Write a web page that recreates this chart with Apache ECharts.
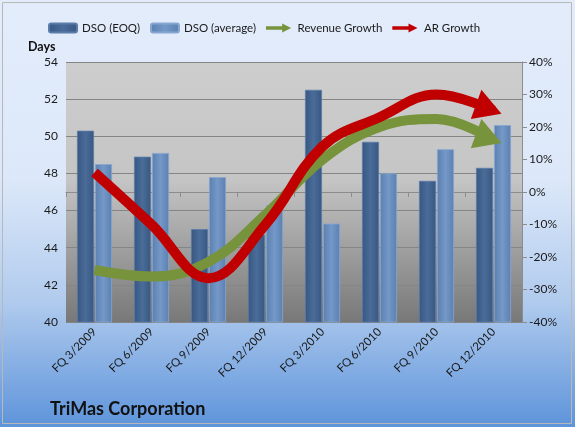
<!DOCTYPE html>
<html>
<head>
<meta charset="utf-8">
<script src="https://cdn.jsdelivr.net/npm/echarts@6/dist/echarts.min.js"></script>
<style>
html,body{margin:0;padding:0;background:#fff;}
#chart{width:575px;height:427px;}
</style>
</head>
<body>
<div id="chart"></div>
<script>
var categories = ['FQ 3/2009','FQ 6/2009','FQ 9/2009','FQ 12/2009','FQ 3/2010','FQ 6/2010','FQ 9/2010','FQ 12/2010'];
var dsoEOQ = [50.3, 48.9, 45.0, 44.7, 52.5, 49.7, 47.6, 48.3];
var dsoAvg = [48.5, 49.1, 47.8, 46.3, 45.3, 48.0, 49.3, 50.6];
var revenueGrowth = [-24, -26, -21.5, -7, 10, 20, 22.5, 16];
var arGrowth = [6, -10, -26.5, -10, 14, 23, 30, 25];
var leftTicks = {min: 40, max: 54, interval: 2};
var rightTicks = {min: -40, max: 40, interval: 10};

var FONT = 'Lato';
var arrowHead = 'path://M0,0 L24,14 L0,28 Z';
var legendArrow = 'path://M0,3 L18,3 L18,0 L28,5 L18,10 L18,7 L0,7 Z';

function lineData(values, rot) {
  var rad = rot * Math.PI / 180;
  return values.map(function (v, i) {
    if (i === values.length - 1) {
      return {
        value: v,
        symbol: arrowHead,
        symbolSize: [27, 31],
        symbolRotate: -rot,
        symbolOffset: [-5 * Math.cos(rad), -5 * Math.sin(rad)],
        symbolKeepAspect: false
      };
    }
    return {value: v, symbol: 'none'};
  });
}

function barGrad(a, b) {
  return new echarts.graphic.LinearGradient(0, 0, 1, 0, [
    {offset: 0, color: a}, {offset: 0.5, color: b}, {offset: 1, color: a}
  ]);
}

var chart = echarts.init(document.getElementById('chart'));
chart.setOption({
  animation: false,
  backgroundColor: new echarts.graphic.LinearGradient(0, 0, 0, 1, [
    {offset: 0, color: '#e3ecfb'},
    {offset: 0.42, color: '#dce8f9'},
    {offset: 0.7, color: '#b2ccee'},
    {offset: 1, color: '#5e94db'}
  ]),
  textStyle: {fontFamily: FONT},
  graphic: [
    {type: 'rect', shape: {x: 2.5, y: 2.5, width: 569, height: 421}, style: {fill: 'none', stroke: '#b8b8b8', lineWidth: 1}, silent: true},
    {type: 'text', left: 28, top: 40, style: {text: 'Days', font: 'bold 12.5px ' + FONT, fill: '#111'}},
    {type: 'text', left: 50, top: 400, style: {text: 'TriMas Corporation', font: 'bold 18px ' + FONT, fill: '#111'}}
  ],
  legend: {
    left: 43, top: 17,
    itemWidth: 28, itemHeight: 9, itemGap: 10,
    textStyle: {fontFamily: FONT, fontSize: 11.5, color: '#1a1a1a'},
    data: [
      {name: 'DSO (EOQ)', icon: 'roundRect'},
      {name: 'DSO (average)', icon: 'roundRect'},
      {name: 'Revenue Growth', icon: legendArrow, itemStyle: {color: '#77933c'}},
      {name: 'AR Growth', icon: legendArrow, itemStyle: {color: '#c00000'}}
    ]
  },
  grid: {
    left: 66, right: 53, top: 62, bottom: 105,
    show: true, borderWidth: 0,
    backgroundColor: new echarts.graphic.LinearGradient(0, 0, 0, 1, [
      {offset: 0, color: '#cdcdcd'},
      {offset: 0.45, color: '#c5c5c5'},
      {offset: 1, color: '#787878'}
    ])
  },
  xAxis: {
    type: 'category', data: categories,
    axisLine: {lineStyle: {color: '#8c8c8c'}},
    axisTick: {show: true, alignWithLabel: false, length: 5, lineStyle: {color: '#8c8c8c'}},
    axisLabel: {rotate: 45, interval: 0, fontSize: 11.5, color: '#1a1a1a', margin: 8, fontFamily: FONT}
  },
  yAxis: [
    {
      type: 'value', min: leftTicks.min, max: leftTicks.max, interval: leftTicks.interval,
      axisLine: {show: false}, axisTick: {show: false},
      axisLabel: {fontSize: 12, color: '#1a1a1a', margin: 8, fontFamily: FONT},
      splitLine: {lineStyle: {color: '#858585', width: 1}}
    },
    {
      type: 'value', min: rightTicks.min, max: rightTicks.max, interval: rightTicks.interval,
      position: 'right',
      axisLine: {show: true, lineStyle: {color: '#8c8c8c'}},
      axisTick: {show: true, length: 5, lineStyle: {color: '#8c8c8c'}},
      axisLabel: {formatter: '{value}%', fontSize: 12, color: '#1a1a1a', margin: 7, fontFamily: FONT},
      splitLine: {show: false}
    }
  ],
  series: [
    {
      name: 'DSO (EOQ)', type: 'bar', data: dsoEOQ, barWidth: 17, barGap: '6%',
      itemStyle: {color: barGrad('#385781', '#4a6c99'), borderColor: '#5a7ca8', borderWidth: 0.8}
    },
    {
      name: 'DSO (average)', type: 'bar', data: dsoAvg, barWidth: 17,
      itemStyle: {color: barGrad('#5b80b0', '#7499c8'), borderColor: '#86a6cf', borderWidth: 0.8}
    },
    {
      name: 'Revenue Growth', type: 'line', yAxisIndex: 1, smooth: 0.4,
      data: lineData(revenueGrowth, 20), symbol: 'none', showSymbol: true,
      lineStyle: {color: '#77933c', width: 10},
      itemStyle: {color: '#77933c'}, z: 3
    },
    {
      name: 'AR Growth', type: 'line', yAxisIndex: 1, smooth: 0.4,
      data: lineData(arGrowth, 20), symbol: 'none', showSymbol: true,
      lineStyle: {color: '#c00000', width: 10},
      itemStyle: {color: '#c00000'}, z: 4
    }
  ]
});
</script>
</body>
</html>
